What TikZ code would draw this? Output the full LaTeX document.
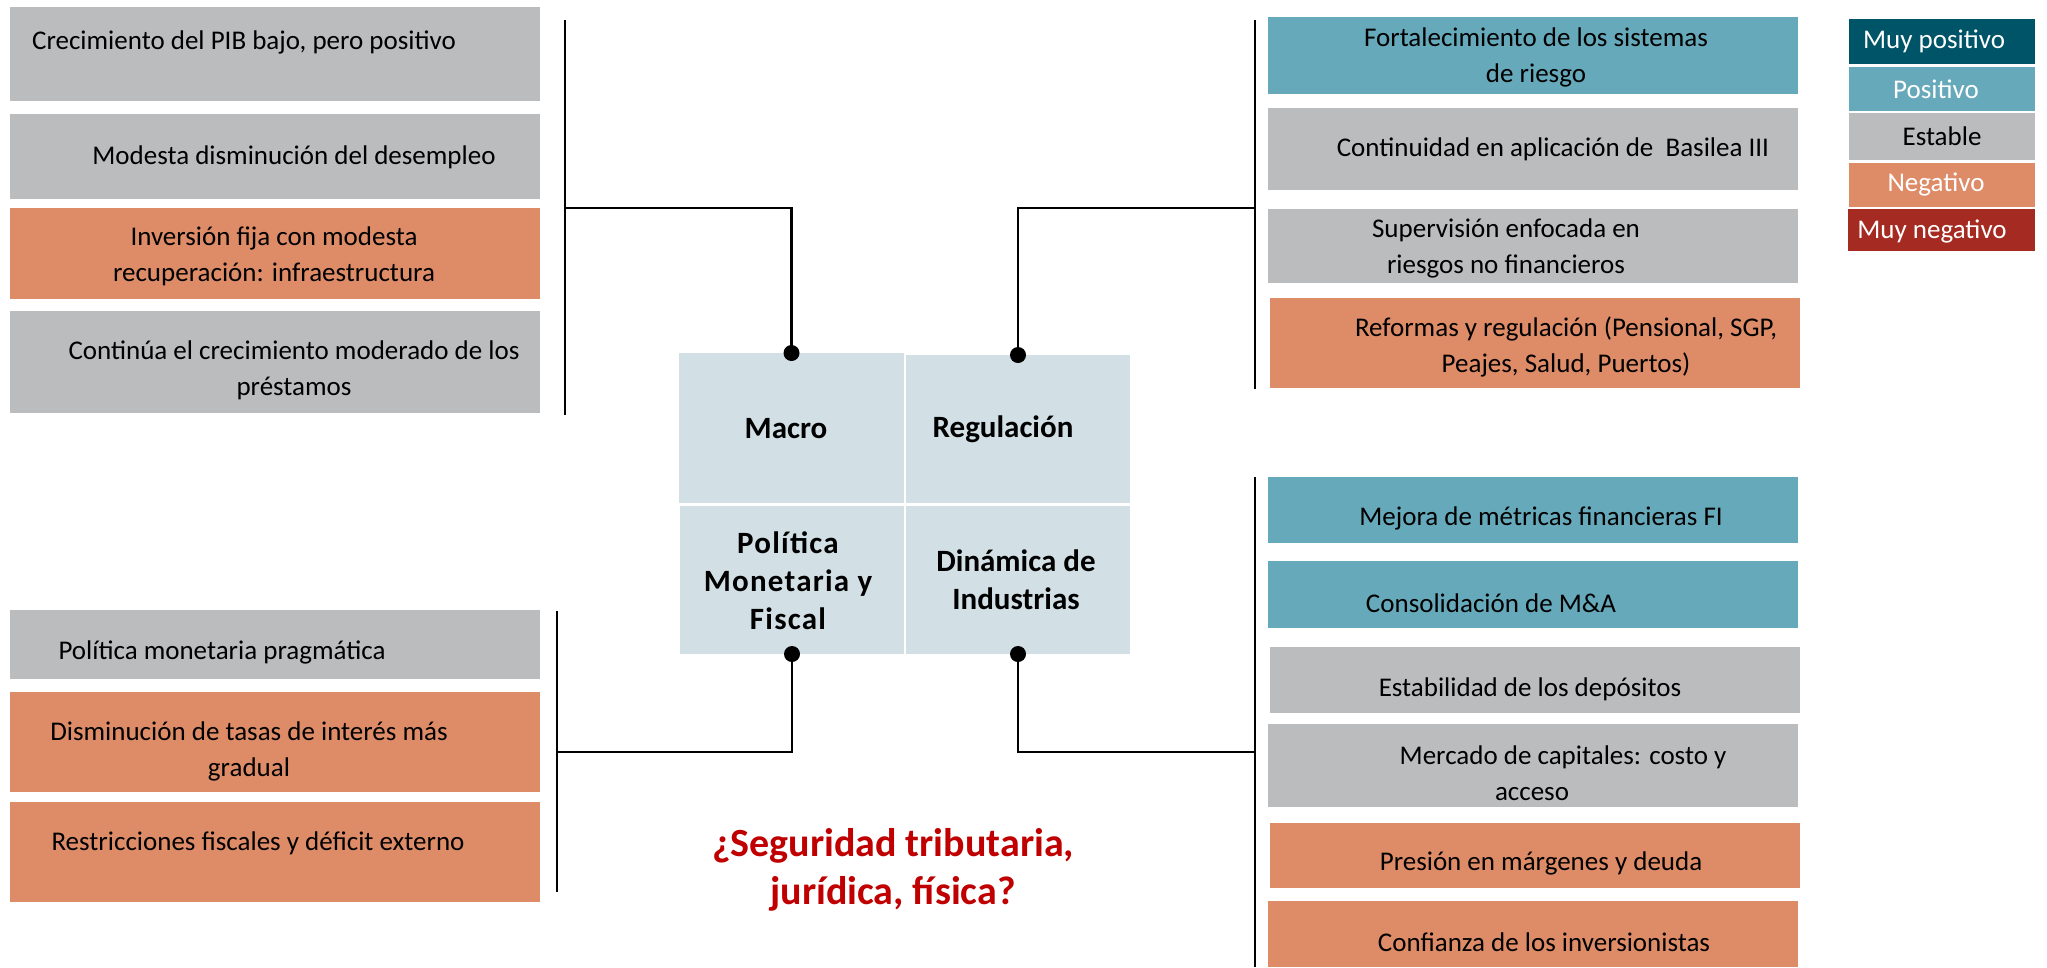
\documentclass[tikz,border=0pt]{standalone}
\usepackage{fontspec}
\setmainfont{Carlito}
\definecolor{gris}{HTML}{BBBCBE}
\definecolor{naranja}{HTML}{DE8C68}
\definecolor{azul}{HTML}{66A9BA}
\definecolor{azuloscuro}{HTML}{005468}
\definecolor{rojo}{HTML}{A52B22}
\definecolor{centro}{HTML}{D2E0E6}
\definecolor{rojotexto}{HTML}{C00000}
\newcommand\caja[6]{\node[caja,fill=#2,minimum width={#5-#3},minimum height={#6-#4}] (#1) at ({(#3+#5)/2},{(#4+#6)/2}) {};}
\begin{document}
\begin{tikzpicture}[x=1pt,y=-1pt,
 caja/.style={rectangle,draw=none,inner sep=0pt,outer sep=0pt},
 txt/.style={inner sep=0pt,align=center,font=\fontsize{27}{36}\selectfont},
 leg/.style={inner sep=0pt,align=center,font=\fontsize{27}{36}\selectfont,text=white},
 cat/.style={inner sep=0pt,align=center,font=\bfseries\fontsize{31}{38}\selectfont},
 pregunta/.style={inner sep=0pt,align=center,text=rojotexto,font=\bfseries\fontsize{40}{48}\selectfont},
 conn/.style={line width=2.5pt,draw=black}]
\fill[white] (0,0) rectangle (2047,967);
\path[use as bounding box] (0,0) rectangle (2047,967);

% center quadrants
\caja{macro}{centro}{679}{353}{904}{503}
\caja{reg}{centro}{906}{355}{1130}{503}
\caja{pol}{centro}{680}{506}{904}{654}
\caja{din}{centro}{906}{506}{1130}{654}
\node[cat] (macrot) at (786,429) {Macro};
\node[cat] (regt) at (1003,429) {Regulación};
\node[cat,font=\bfseries\fontsize{31}{38}\selectfont\addfontfeature{LetterSpace=4}] (polt) at (788,581) {Política\\Monetaria y\\Fiscal};
\node[cat] (dint) at (1016,580) {Dinámica de\\Industrias};

% left top boxes
\caja{a1}{gris}{10}{7}{540}{101}
\caja{a2}{gris}{10}{114}{540}{199}
\caja{a3}{naranja}{10}{208}{540}{299}
\caja{a4}{gris}{10}{311}{540}{413}
\node[txt] (a1t) at (244,42) {Crecimiento del PIB bajo, pero positivo};
\node[txt] (a2t) at (294,157) {Modesta disminución del desempleo};
\node[txt] (a3t) at (274,256) {Inversión fija con modesta\\recuperación: infraestructura};
\node[txt] (a4t) at (294,370) {Continúa el crecimiento moderado de los\\préstamos};

% left bottom boxes
\caja{b1}{gris}{10}{610}{540}{679}
\caja{b2}{naranja}{10}{692}{540}{792}
\caja{b3}{naranja}{10}{802}{540}{902}
\node[txt] (b1t) at (222,652) {Política monetaria pragmática};
\node[txt] (b2t) at (249,751) {Disminución de tasas de interés más\\gradual};
\node[txt] (b3t) at (258,843) {Restricciones fiscales y déficit externo};

% right top boxes
\caja{r1}{azul}{1268}{17}{1798}{94}
\caja{r2}{gris}{1268}{108}{1798}{190}
\caja{r3}{gris}{1268}{209}{1798}{283}
\caja{r4}{naranja}{1270}{298}{1800}{388}
\node[txt] (r1t) at (1536,57) {Fortalecimiento de los sistemas\\de riesgo};
\node[txt] (r2t) at (1553,149) {Continuidad en aplicación de\ \ Basilea III};
\node[txt] (r3t) at (1506,248) {Supervisión enfocada en\\riesgos no financieros};
\node[txt] (r4t) at (1566,347) {Reformas y regulación (Pensional, SGP,\\Peajes, Salud, Puertos)};

% right bottom boxes
\caja{c1}{azul}{1268}{477}{1798}{543}
\caja{c2}{azul}{1268}{561}{1798}{628}
\caja{c3}{gris}{1270}{647}{1800}{713}
\caja{c4}{gris}{1268}{724}{1798}{807}
\caja{c5}{naranja}{1270}{823}{1800}{888}
\caja{c6}{naranja}{1268}{901}{1798}{967}
\node[txt] (c1t) at (1541,518) {Mejora de métricas financieras FI};
\node[txt] (c2t) at (1491,603) {Consolidación de M\&A};
\node[txt] (c3t) at (1530,689) {Estabilidad de los depósitos};
\node[txt] (c4t) at (1563,773) {Mercado de capitales: costo y\\\hspace*{-62pt}acceso};
\node[txt] (c5t) at (1541,863) {Presión en márgenes y deuda};
\node[txt] (c6t) at (1544,942) {Confianza de los inversionistas};

% legend
\caja{l1}{azuloscuro}{1849}{19}{2035}{64}
\caja{l2}{azul}{1849}{67}{2035}{111}
\caja{l3}{gris}{1849}{113}{2035}{160}
\caja{l4}{naranja}{1849}{163}{2035}{207}
\caja{l5}{rojo}{1848}{209}{2035}{251}
\node[leg] (l1t) at (1934,41) {Muy positivo};
\node[leg] (l2t) at (1936,89) {Positivo};
\node[leg,text=black] (l3t) at (1942,136) {Estable};
\node[leg] (l4t) at (1936,184) {Negativo};
\node[leg] (l5t) at (1932,231) {Muy negativo};

% question
\node[pregunta] (q) at (893,870) {¿Seguridad tributaria,\\jurídica, física?};

% brackets and connectors
\coordinate (brAt) at (565,20);
\coordinate (brAb) at (565,415);
\coordinate (brAm) at (565,208);
\coordinate (brBt) at (1255,20);
\coordinate (brBb) at (1255,389);
\coordinate (brBm) at (1255,208);
\coordinate (brCt) at (557,611);
\coordinate (brCb) at (557,892);
\coordinate (brCm) at (557,752);
\coordinate (brDt) at (1255,477);
\coordinate (brDb) at (1255,967);
\coordinate (brDm) at (1255,752);
\draw[conn] (brAt) -- (brAb);
\draw[conn] (brBt) -- (brBb);
\draw[conn] (brCt) -- (brCb);
\draw[conn] (brDt) -- (brDb);
\draw[conn] (macro.north) |- (brAm);
\draw[conn] (reg.north) |- (brBm);
\draw[conn] (pol.south) |- (brCm);
\draw[conn] (din.south) |- (brDm);
\fill (macro.north) circle[radius=8pt];
\fill (reg.north) circle[radius=8pt];
\fill (pol.south) circle[radius=8pt];
\fill (din.south) circle[radius=8pt];
\end{tikzpicture}
\end{document}
